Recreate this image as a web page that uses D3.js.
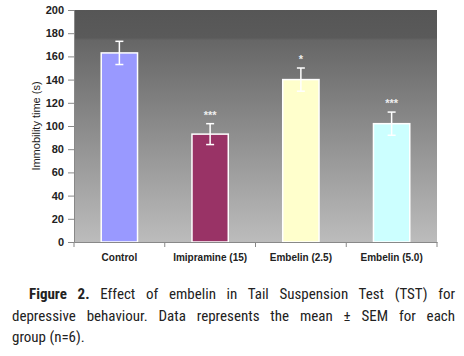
<!DOCTYPE html>
<html><head><meta charset="utf-8">
<script src="https://cdn.jsdelivr.net/npm/d3@7"></script>
<style>
body{margin:0;background:#fff;width:464px;height:356px;overflow:hidden;position:relative;}
#cap{position:absolute;left:12px;top:284px;width:443px;font-family:"Liberation Sans Narrow","Roboto Condensed","DejaVu Sans Condensed",sans-serif;font-size:15px;color:#222;line-height:21.5px;}
#cap div{text-align:justify;text-align-last:justify;white-space:nowrap;}
#cap div.last{text-align-last:left;}
</style></head><body>
<svg id="chart" width="464" height="280"></svg>
<div id="cap"></div>
<script>
const categories = ["Control","Imipramine (15)","Embelin (2.5)","Embelin (5.0)"];
const means = [163, 93, 140, 102];
const sems = [10, 9, 10, 10];
const sigLabels = ["", "***", "*", "***"];
const barColors = ["#9999ff","#993366","#ffffcc","#ccffff"];
const yTicks = [0,20,40,60,80,100,120,140,160,180,200];
const yLabel = "Immobility time (s)";

const svg = d3.select("#chart");
const L=74, R=437, T=10, B=242;
const x = d3.scaleBand().domain(categories).range([L,R]);
const y = d3.scaleLinear().domain([0,200]).range([B,T]);

const defs = svg.append("defs");
const g = defs.append("linearGradient").attr("id","bg").attr("x1",0).attr("y1",0).attr("x2",0).attr("y2",1);
g.append("stop").attr("offset","0").attr("stop-color","#565656");
g.append("stop").attr("offset","0.12").attr("stop-color","#5a5a5a");
g.append("stop").attr("offset","0.13").attr("stop-color","#666");
g.append("stop").attr("offset","1").attr("stop-color","#bcbcbc");
svg.append("rect").attr("x",L).attr("y",T).attr("width",R-L).attr("height",B-T).attr("fill","url(#bg)");

// bars
const bw = x.step()*0.4;
svg.selectAll("rect.bar").data(categories).enter().append("rect")
 .attr("x",(d)=>x(d)+x.bandwidth()/2-bw/2)
 .attr("y",(d,i)=>y(means[i]))
 .attr("width",bw).attr("height",(d,i)=>B-y(means[i]))
 .attr("fill",(d,i)=>barColors[i]).attr("stroke","#fff").attr("stroke-width",1.5);

// error bars
const eg = svg.append("g").attr("stroke","#fff").attr("stroke-width",1.5);
categories.forEach((c,i)=>{
  const cx = x(c)+x.bandwidth()/2;
  eg.append("line").attr("x1",cx).attr("x2",cx).attr("y1",y(means[i]-sems[i])).attr("y2",y(means[i]+sems[i]));
  [means[i]-sems[i], means[i]+sems[i]].forEach(v=>{
    eg.append("line").attr("x1",cx-4).attr("x2",cx+4).attr("y1",y(v)).attr("y2",y(v));
  });
  svg.append("text").attr("x",cx).attr("y",y(means[i]+sems[i])-5).attr("text-anchor","middle")
    .attr("fill","#eee").attr("font-family","Liberation Sans, Arial").attr("font-size",11).attr("font-weight","bold").text(sigLabels[i]);
});

// axes
const ya = svg.append("g").attr("transform",`translate(${L},0)`)
 .call(d3.axisLeft(y).tickValues(yTicks).tickSize(6).tickPadding(4));
ya.select(".domain").attr("stroke","#888");
ya.selectAll(".tick line").attr("stroke","#888");
ya.selectAll("text").attr("font-family","Liberation Sans, Arial").attr("font-size",11).attr("font-weight","bold").attr("fill","#222");

const xa = svg.append("g").attr("transform",`translate(0,${B})`)
 .call(d3.axisBottom(x).tickSize(0).tickPadding(12));
xa.select(".domain").attr("stroke","#888");
xa.selectAll("text").attr("font-family","Liberation Sans, Arial").attr("font-size",10).attr("font-weight","bold").attr("fill","#222");
// tick marks at band boundaries
const bounds = categories.map(c=>x(c)).concat([R]);
xa.selectAll("line.bt").data(bounds).enter().append("line").attr("class","bt")
  .attr("x1",d=>d).attr("x2",d=>d).attr("y1",0).attr("y2",5).attr("stroke","#888");

svg.append("text").attr("transform",`translate(40,${(T+B)/2}) rotate(-90)`).attr("text-anchor","middle")
 .attr("font-family","Liberation Sans, Arial").attr("font-size",11).attr("fill","#222").text(yLabel);

// caption
const cap = d3.select("#cap");
cap.append("div").style("padding-left","17px").html("<b>Figure 2.</b> Effect of embelin in Tail Suspension Test (TST) for");
cap.append("div").text("depressive behaviour. Data represents the mean ± SEM for each");
cap.append("div").attr("class","last").text("group (n=6).");
</script>
</body></html>
